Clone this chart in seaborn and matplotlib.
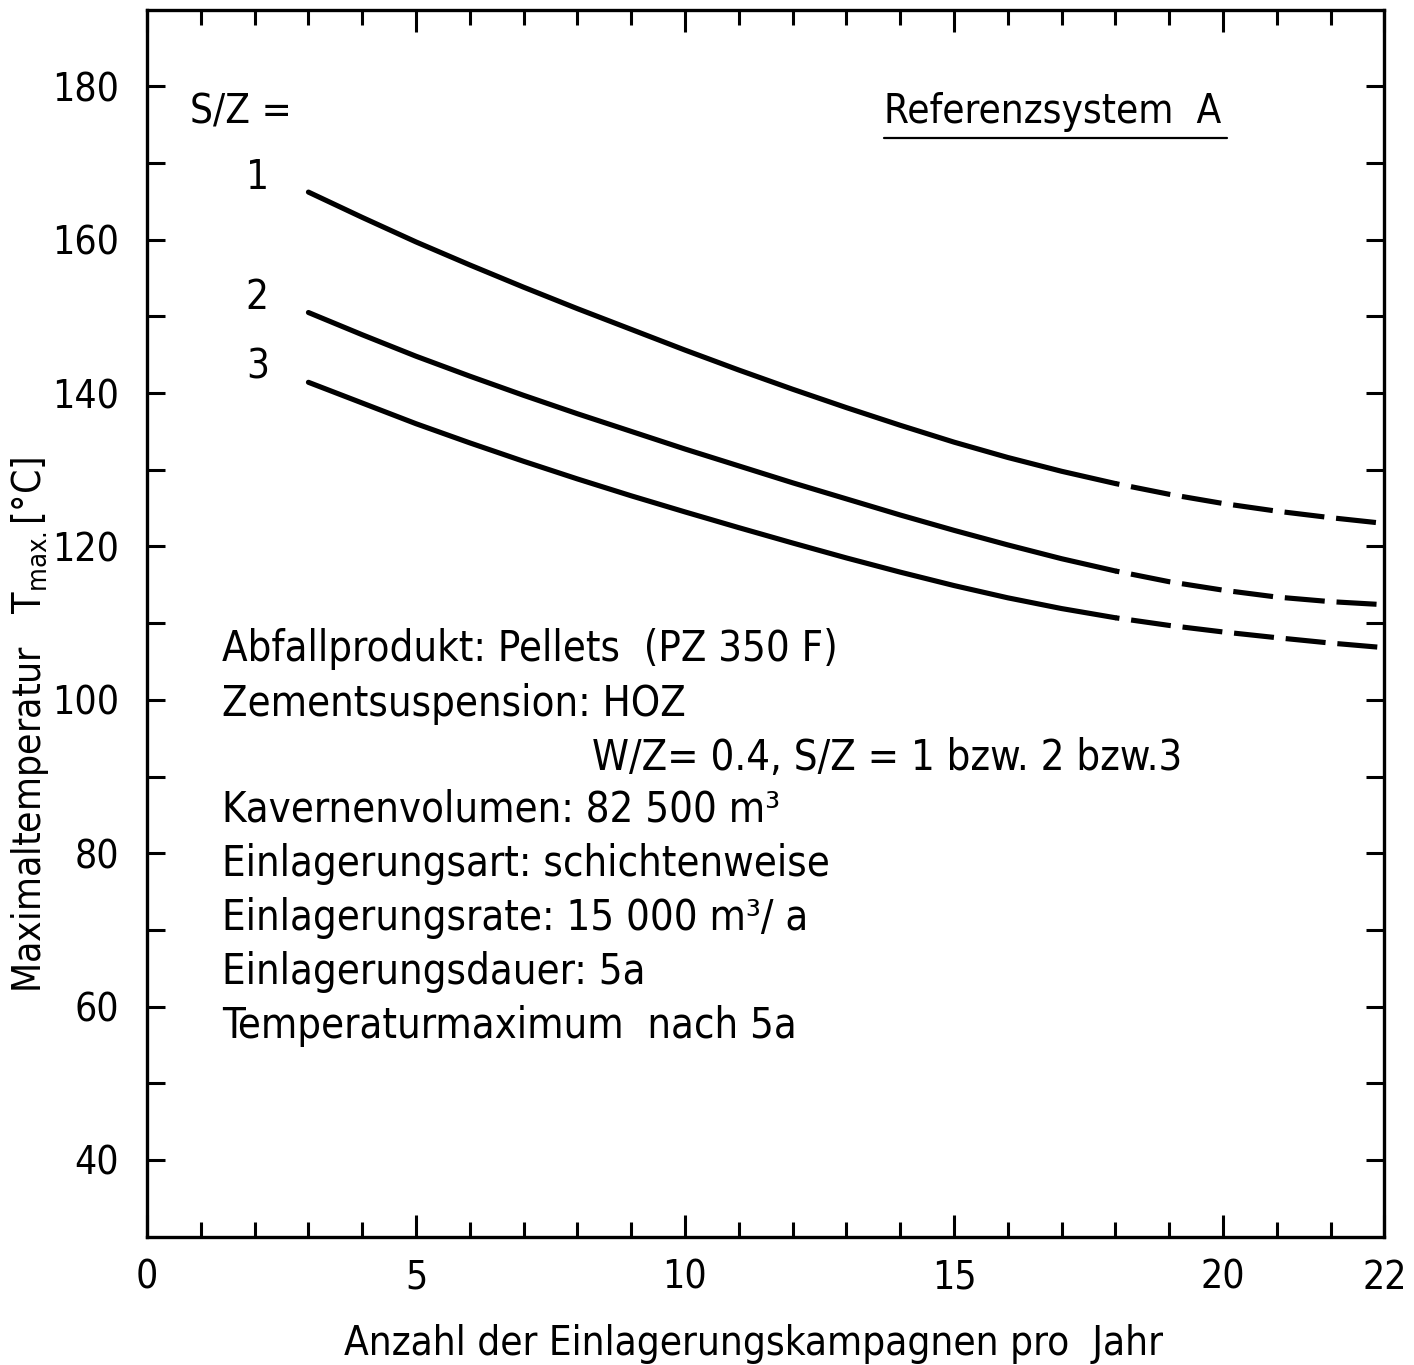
import numpy as np
import pandas as pd
import matplotlib
matplotlib.use("Agg")
import matplotlib.pyplot as plt
import seaborn as sns
from matplotlib.ticker import FixedLocator

# Values (x = campaigns per year, T = max temperature)
kampagnen = [3, 4, 5, 6, 7, 8, 9, 10, 11, 12, 13, 14, 15, 16, 17, 18, 19, 20, 21, 22, 23]
t_sz1 = [166.2, 162.9, 159.7, 156.7, 153.8, 151.0, 148.3, 145.6, 143.0, 140.5, 138.1,
         135.8, 133.6, 131.6, 129.8, 128.2, 126.8, 125.6, 124.6, 123.75, 123.0]
t_sz2 = [150.5, 147.6, 144.8, 142.2, 139.7, 137.3, 135.0, 132.7, 130.5, 128.3, 126.2,
         124.1, 122.1, 120.2, 118.4, 116.8, 115.4, 114.3, 113.4, 112.8, 112.4]
t_sz3 = [141.4, 138.7, 136.0, 133.5, 131.1, 128.8, 126.6, 124.5, 122.45, 120.45, 118.5,
         116.65, 114.9, 113.3, 111.9, 110.7, 109.7, 108.85, 108.1, 107.4, 106.8]
sz_labels = ["1", "2", "3"]
solid_end = 18

x_tick_pos = [0, 5, 10, 15, 20, 23]
x_tick_lab = ["0", "5", "10", "15", "20", "22"]
y_tick_pos = [40, 60, 80, 100, 120, 140, 160, 180]

info_lines = [
    "Abfallprodukt: Pellets  (PZ 350 F)",
    "Zementsuspension: HOZ",
    "Kavernenvolumen: 82 500 m³",
    "Einlagerungsart: schichtenweise",
    "Einlagerungsrate: 15 000 m³/ a",
    "Einlagerungsdauer: 5a",
    "Temperaturmaximum  nach 5a",
]
info_indent = "W/Z= 0.4, S/Z = 1 bzw. 2 bzw.3"

sns.set_style("ticks")
plt.rcParams["font.family"] = ["DejaVu Sans"]
plt.rcParams["font.stretch"] = "condensed"
plt.rcParams["text.color"] = "black"
plt.rcParams["axes.labelcolor"] = "black"
plt.rcParams["xtick.color"] = "black"
plt.rcParams["ytick.color"] = "black"

fig = plt.figure(figsize=(14.14, 13.65), dpi=100)
ax = fig.add_axes([0.104, 0.094, 0.875, 0.899])

df = pd.DataFrame({
    "x": kampagnen * 3,
    "T": t_sz1 + t_sz2 + t_sz3,
    "sz": sum([[s] * len(kampagnen) for s in sz_labels], []),
})

for s in sz_labels:
    d = df[df["sz"] == s]
    solid = d[d["x"] <= solid_end]
    dashed = d[d["x"] >= solid_end]
    sns.lineplot(data=solid, x="x", y="T", color="black", linewidth=3.7,
                 estimator=None, ax=ax)
    sns.lineplot(data=dashed, x="x", y="T", color="black", linewidth=3.7,
                 estimator=None, linestyle=(7.0, (7.8, 2.3)), ax=ax)
    # curve label left of the line start
    ax.text(2.05, d["T"].iloc[0] + 1.9, s, fontsize=29, ha="center", va="center")

ax.text(0.8, 176.6, "S/Z =", fontsize=29, ha="left", va="center")

ref = ax.text(13.7, 176.6, "Referenzsystem  A", fontsize=29, ha="left", va="center")

# text block
for i, line in enumerate(info_lines[:2]):
    ax.text(1.39, 106.6 - i * 7.1, line, fontsize=30, ha="left", va="center")
ax.text(8.27, 92.4, info_indent, fontsize=30, ha="left", va="center")
for i, line in enumerate(info_lines[2:]):
    ax.text(1.39, 85.7 - i * 7.05, line, fontsize=30, ha="left", va="center")

ax.set_xlim(0, 23)
ax.set_ylim(30, 190)

ax.xaxis.set_major_locator(FixedLocator(x_tick_pos))
ax.set_xticklabels(x_tick_lab)
ax.xaxis.set_minor_locator(FixedLocator([v for v in range(1, 23) if v % 5 != 0]))
ax.yaxis.set_major_locator(FixedLocator(y_tick_pos))
ax.yaxis.set_minor_locator(FixedLocator([v for v in range(50, 180, 20)]))

ax.tick_params(which="both", direction="in", top=True, right=True, width=2.2,
               labelsize=28, color="black", labelcolor="black")
ax.tick_params(axis="x", which="major", length=16, pad=16)
ax.tick_params(axis="x", which="minor", length=11)
ax.tick_params(axis="y", which="both", length=13, pad=20)

for sp in ax.spines.values():
    sp.set_visible(True)
    sp.set_linewidth(2.4)
    sp.set_color("black")

ax.set_xlabel("Anzahl der Einlagerungskampagnen pro  Jahr", fontsize=29)
ax.xaxis.set_label_coords(0.49, -0.071)
ax.set_ylabel(r"Maximaltemperatur   $\mathregular{T_{max.}}$[°C]", fontsize=28)
ax.yaxis.set_label_coords(-0.078, 0.417)

# underline for the reference system title
fig.canvas.draw()
bb = ref.get_window_extent().transformed(ax.transAxes.inverted())
ax.plot([bb.x0, bb.x1 + 0.005], [bb.y0 - 0.005, bb.y0 - 0.005], color="black",
        linewidth=1.6, transform=ax.transAxes)

fig.savefig("out.png", dpi=100, facecolor="white")
